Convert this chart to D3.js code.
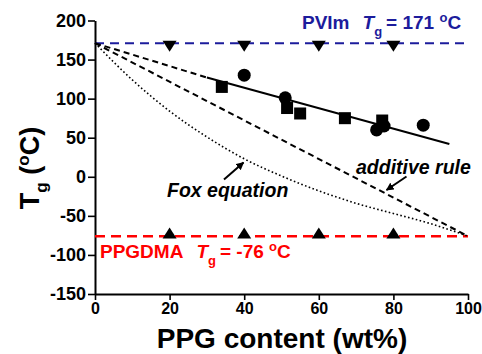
<!DOCTYPE html>
<html>
<head>
<meta charset="utf-8">
<script src="https://cdn.jsdelivr.net/npm/d3@7"></script>
<style>
  body { margin: 0; background: #fff; }
  svg text { font-family: "Liberation Sans", Arial, sans-serif; font-weight: bold; }
</style>
</head>
<body>
<svg id="chart" width="482" height="354"></svg>
<script>
// measured Tg data (wt% PPG, Tg in degC)
var circleX = [40, 51, 75.5, 77.5, 88];
var circleY = [130, 101, 60, 65, 66];
var squareX = [34, 51.5, 55, 67, 77];
var squareY = [115, 88, 81, 75, 72];

// pure component reference lines and their markers
var pvimTg = 171, ppgTg = -76;
var markX = [20, 40, 60, 80];
var downY = [167, 167, 167, 167];
var upY = [-72, -72, -72, -72];

// linear fit (solid) and its dashed extension to 0 wt%
var fitX = [30, 95], fitY = [127, 42];
var extX = [0, 30], extY = [171, 127];

// additive rule and Fox equation curves
var addX = [0, 100], addY = [171, -76];
var foxX = [0, 10, 20, 30, 40, 50, 60, 70, 80, 90, 100];
var foxY = [171, 124, 84, 51, 23, 1, -18, -34, -47, -60, -76];

var xTicks = [0, 20, 40, 60, 80, 100];
var yTicks = [-150, -100, -50, 0, 50, 100, 150, 200];

var svg = d3.select("#chart");
var x = d3.scaleLinear().domain([0, 100]).range([95, 468]);
var y = d3.scaleLinear().domain([-150, 200]).range([294, 20.5]);

function zip(a, b) { return a.map(function(v, i){ return [v, b[i]]; }); }
var line = d3.line().x(function(d){ return x(d[0]); }).y(function(d){ return y(d[1]); });

// axes
var ax = svg.append("g").attr("transform", "translate(0,294)");
ax.call(d3.axisBottom(x).tickValues(d3.range(0, 101, 10)).tickSize(4).tickSizeOuter(0).tickFormat(""));
ax.call(d3.axisBottom(x).tickValues(xTicks).tickSize(6).tickSizeOuter(0).tickPadding(3)
    .tickFormat(function(d){ return String(d); }));
var ay = svg.append("g").attr("transform", "translate(95,0)");
ay.call(d3.axisLeft(y).tickValues(d3.range(-150, 201, 25)).tickSize(4).tickSizeOuter(0).tickFormat(""));
ay.call(d3.axisLeft(y).tickValues(yTicks).tickSize(7).tickSizeOuter(0).tickPadding(2)
    .tickFormat(function(d){ return String(d); }));
svg.selectAll(".domain").attr("stroke", "#000").attr("stroke-width", 2);
svg.selectAll(".tick line").attr("stroke", "#000").attr("stroke-width", 1.6);
ay.selectAll(".tick text").attr("fill", "#000").style("font-size", "18px");
ax.selectAll(".tick text").attr("fill", "#000").style("font-size", "16px");

// reference lines
svg.append("path").attr("d", line([[0, pvimTg], [100, pvimTg]]))
    .attr("stroke", "#1c1c9c").attr("stroke-width", 2).attr("stroke-dasharray", "9,6").attr("fill", "none");
svg.append("path").attr("d", line([[0, ppgTg], [100, ppgTg]]))
    .attr("stroke", "#ff0000").attr("stroke-width", 2.5).attr("stroke-dasharray", "10,6").attr("fill", "none");

// curves
svg.append("path").attr("d", line(zip(addX, addY)))
    .attr("stroke", "#000").attr("stroke-width", 2).attr("stroke-dasharray", "6,4").attr("fill", "none");
svg.append("path").attr("d", line.curve(d3.curveMonotoneX)(zip(foxX, foxY)))
    .attr("stroke", "#000").attr("stroke-width", 1.6).attr("stroke-dasharray", "1.6,2.4").attr("fill", "none");
line.curve(d3.curveLinear);
svg.append("path").attr("d", line(zip(extX, extY)))
    .attr("stroke", "#000").attr("stroke-width", 2).attr("stroke-dasharray", "6,4").attr("fill", "none");
svg.append("path").attr("d", line(zip(fitX, fitY)))
    .attr("stroke", "#000").attr("stroke-width", 2).attr("fill", "none");

// markers
function tri(cx, cy, up) {
  var w = 7, h = 5.5;
  return up ? "M" + (cx - w) + "," + (cy + h) + "L" + (cx + w) + "," + (cy + h) + "L" + cx + "," + (cy - h) + "Z"
            : "M" + (cx - w) + "," + (cy - h) + "L" + (cx + w) + "," + (cy - h) + "L" + cx + "," + (cy + h) + "Z";
}
svg.append("g").selectAll("path").data(zip(markX, downY)).enter().append("path")
    .attr("d", function(d){ return tri(x(d[0]), y(d[1]), false); }).attr("fill", "#000");
svg.append("g").selectAll("path").data(zip(markX, upY)).enter().append("path")
    .attr("d", function(d){ return tri(x(d[0]), y(d[1]), true); }).attr("fill", "#000");
svg.append("g").selectAll("rect").data(zip(squareX, squareY)).enter().append("rect")
    .attr("x", function(d){ return x(d[0]) - 6; }).attr("y", function(d){ return y(d[1]) - 6; })
    .attr("width", 12).attr("height", 12).attr("fill", "#000");
svg.append("g").selectAll("circle").data(zip(circleX, circleY)).enter().append("circle")
    .attr("cx", function(d){ return x(d[0]); }).attr("cy", function(d){ return y(d[1]); })
    .attr("r", 6.5).attr("fill", "#000");

// labels with Tg
function tgLabel(tx, ty, name, value, color) {
  var t = svg.append("text").attr("x", tx).attr("y", ty).attr("fill", color).style("font-size", "19px");
  t.append("tspan").text(name);
  t.append("tspan").attr("dx", 13).style("font-style", "italic").text("T");
  t.append("tspan").attr("dy", 7).style("font-size", "13px").text("g");
  t.append("tspan").attr("dy", -7).attr("dx", 4).text("= " + value + " ");
  t.append("tspan").attr("dy", -7).style("font-size", "13px").text("o");
  t.append("tspan").attr("dy", 7).text("C");
}
tgLabel(302, 29, "PVIm", pvimTg, "#1c1c9c");
tgLabel(100, 258, "PPGDMA", ppgTg, "#ff0000");

// annotations with arrows
svg.append("defs").append("marker").attr("id", "ah").attr("viewBox", "0 0 10 10")
    .attr("refX", 9).attr("refY", 5).attr("markerWidth", 4).attr("markerHeight", 4).attr("orient", "auto")
    .append("path").attr("d", "M0,0L10,5L0,10Z").attr("fill", "#000");
svg.append("line").attr("x1", 224).attr("y1", 179.5).attr("x2", 243.5).attr("y2", 162.5)
    .attr("stroke", "#000").attr("stroke-width", 2).attr("marker-end", "url(#ah)");
svg.append("line").attr("x1", 406.5).attr("y1", 176.5).attr("x2", 386.5).attr("y2", 190)
    .attr("stroke", "#000").attr("stroke-width", 2).attr("marker-end", "url(#ah)");
svg.append("text").attr("x", 167).attr("y", 197).style("font-size", "19.5px").style("font-style", "italic")
    .text("Fox equation");
svg.append("text").attr("x", 356).attr("y", 173.5).style("font-size", "19.5px").style("font-style", "italic")
    .text("additive rule");

// axis titles
svg.append("text").attr("x", 282).attr("y", 348).attr("text-anchor", "middle").style("font-size", "28px")
    .text("PPG content (wt%)");
var yt = svg.append("text").attr("transform", "translate(39,168) rotate(-90)").attr("text-anchor", "middle")
    .style("font-size", "27px");
yt.append("tspan").text("T");
yt.append("tspan").attr("dy", 8).style("font-size", "17px").text("g");
yt.append("tspan").attr("dy", -8).text(" (");
yt.append("tspan").attr("dy", -10).style("font-size", "17px").text("o");
yt.append("tspan").attr("dy", 10).text("C)");
</script>
</body>
</html>
